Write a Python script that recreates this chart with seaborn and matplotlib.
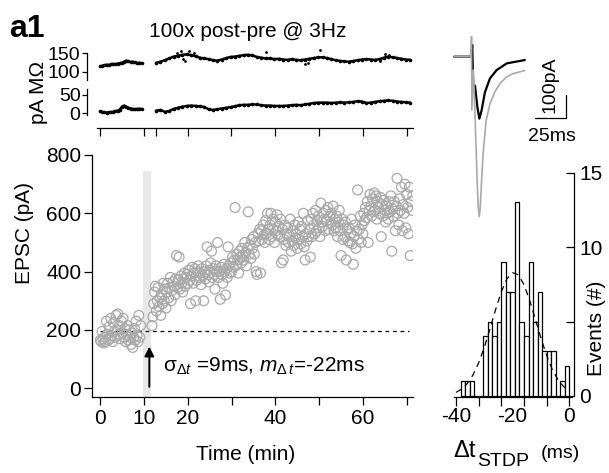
import numpy as np
import pandas as pd
import matplotlib
matplotlib.use("Agg")
import matplotlib.pyplot as plt
import seaborn as sns

# ---------------- data ----------------
sample_step_min = 0.2
baseline_start_min = 0.0
baseline_epsc = [165, 160, 195, 170, 155, 175, 160, 230, 185, 165,
                 210, 170, 240, 180, 160, 225, 195, 175, 250, 200,
                 255, 185, 215, 170, 230, 190, 240, 175, 205, 160,
                 185, 215, 165, 200, 175, 150, 190, 140, 175, 205,
                 165, 230, 180, 160, 250, 175, 215]
post_start_min = 11.8
post_epsc = [215, 245, 290, 330, 350, 265, 300, 345, 280, 310,
             250, 320, 290, 360, 300, 340, 275, 330, 360, 310,
             345, 380, 300, 335, 365, 350, 320, 375, 455, 345,
             370, 450, 340, 385, 360, 330, 375, 395, 350, 380,
             390, 360, 405, 370, 290, 385, 415, 360, 395, 410,
             300, 370, 400, 420, 380, 395, 355, 410, 385, 300,
             400, 375, 420, 485, 390, 365, 405, 430, 470, 380,
             410, 390, 340, 420, 400, 500, 380, 400, 305, 415,
             390, 360, 425, 400, 320, 410, 380, 485, 420, 395,
             430, 400, 450, 415, 440, 620, 420, 460, 440, 395,
             470, 450, 430, 480, 455, 440, 500, 465, 420, 480,
             605, 460, 490, 445, 510, 480, 520, 460, 500, 400,
             390, 530, 505, 545, 395, 540, 510, 560, 525, 500,
             575, 530, 600, 545, 510, 560, 600, 520, 580, 545,
             500, 570, 540, 595, 525, 555, 520, 580, 430, 545,
             440, 510, 560, 490, 530, 550, 500, 525, 580, 470,
             505, 540, 490, 560, 515, 530, 480, 570, 510, 545,
             495, 555, 520, 600, 485, 440, 530, 505, 575, 520,
             545, 450, 580, 520, 600, 560, 530, 610, 540, 575,
             590, 550, 520, 635, 570, 555, 600, 580, 540, 610,
             575, 620, 545, 590, 565, 600, 560, 625, 540, 580,
             550, 590, 520, 570, 610, 540, 455, 580, 510, 560,
             520, 570, 440, 545, 505, 550, 500, 530, 580, 495,
             425, 520, 560, 480, 540, 680, 510, 545, 590, 500,
             560, 530, 600, 575, 620, 585, 640, 500, 610, 665,
             625, 590, 650, 605, 670, 610, 660, 580, 640, 620,
             600, 655, 520, 630, 590, 645, 610, 570, 625, 600,
             580, 640, 605, 660, 470, 615, 590, 640, 540, 625,
             720, 600, 560, 650, 610, 690, 540, 630, 600, 700,
             550, 665, 620, 530, 690, 455, 640, 610, 660]
baseline_level = 197
pairing_window = (9.65, 11.65)
time_ticks = [0, 10, 20, 30, 40, 50, 60, 70]
time_ticklabels = ["0", "10", "20", "", "40", "", "60", ""]
epsc_ticks = [0, 200, 400, 600, 800]

# series resistance (MOhm) and holding current (pA)
rs_seg1_start, rs_seg1_step = 0.0, 0.5
rs_seg1 = [114, 116, 117, 119, 118, 120, 121, 120, 122, 123,
           124, 127, 130, 128, 126, 127, 125, 123, 124, 123]
rs_seg2_start, rs_seg2_step = 12.8, 1.0
rs_seg2 = [124, 127, 131, 136, 141, 143, 146, 147, 145, 142,
           138, 136, 134, 131, 130, 133, 137, 140, 141, 143,
           145, 146, 144, 140, 138, 136, 136, 134, 135, 133,
           132, 134, 132, 131, 133, 135, 137, 139, 139, 137,
           134, 131, 129, 128, 127, 129, 131, 133, 134, 133,
           132, 134, 138, 141, 139, 137, 135, 133, 132]
rs_outlier_t = [17.5, 18.5, 19.0, 19.4, 20.2, 21.5, 37.9, 46.8, 47.5, 50.2, 64.0, 65.0, 66.0]
rs_outlier_v = [152, 157, 135, 130, 156, 152, 153, 121, 123, 159, 128, 147, 145]
ih_seg1 = [5, 4, 3, 2, 3, 3, 4, 6, 7, 10,
           18, 21, 18, 15, 13, 12, 11, 12, 12, 12]
ih_seg2 = [7, 9, 4, 6, 12, 15, 18, 20, 21, 20,
           19, 17, 11, 9, 11, 13, 15, 17, 19, 22,
           23, 23, 24, 24, 22, 21, 21, 20, 20, 20,
           21, 22, 23, 22, 24, 26, 28, 29, 29, 29,
           28, 29, 30, 29, 30, 31, 33, 32, 28, 29,
           31, 33, 34, 35, 34, 32, 31, 30, 29]
trace_axis_ticks = [0, 10, 12.8, 20, 30, 40, 50, 60, 70]

# spike-timing histogram
hist_first_edge = -38.4
hist_bin_width = 1.6
hist_counts = [1, 1, 1, 0, 0, 4, 5, 4, 5, 9, 7, 7, 13, 5, 4, 9, 5, 7, 3, 3, 3, 0, 1, 2]
fit_dt = [-40, -38, -36, -34, -32, -30, -28, -26, -24, -22, -20,
          -18, -16, -14, -12, -10, -8, -6, -4, -2, 0]
fit_events = [0.24, 0.46, 0.84, 1.41, 2.22, 3.27, 4.51, 5.81, 7.00, 7.88, 8.28,
              8.14, 7.48, 6.43, 5.17, 3.88, 2.72, 1.78, 1.09, 0.63, 0.34]

# example EPSC traces (ms, pA)
pre_t = [-14, -0.5, 0.6, 1.45, 2.8, 4.7, 6.3, 8.1, 10.8, 14.9, 20.3, 28.4, 43]
pre_i = [0, 0, 52, -150, -130, -224, -278, -242, -160, -97, -60, -30, -15]
post_t = [-14, -0.4, 0.0, 0.3, 1.5, 2.5, 3.5, 4.5, 5.5, 6.3, 7.0, 8.0, 9.3,
          11.7, 14.9, 19, 23, 28, 33.5, 43]
post_i = [0, 0, 90, -239, -60, -200, -380, -550, -680, -717, -680, -570, -440,
          -290, -210, -156, -120, -92, -76, -62]

# ---------------- style ----------------
sns.set_style("ticks")
plt.rcParams["font.family"] = ["Liberation Sans", "DejaVu Sans"]
plt.rcParams["axes.unicode_minus"] = False
plt.rcParams["mathtext.fontset"] = "custom"
plt.rcParams["mathtext.rm"] = "Liberation Sans"
plt.rcParams["mathtext.it"] = "Liberation Sans:italic"
plt.rcParams["axes.linewidth"] = 0.9
plt.rcParams["xtick.major.width"] = 0.9
plt.rcParams["ytick.major.width"] = 0.9
plt.rcParams["xtick.color"] = "black"
plt.rcParams["ytick.color"] = "black"
plt.rcParams["xtick.labelcolor"] = "black"
plt.rcParams["ytick.labelcolor"] = "black"
plt.rcParams["axes.edgecolor"] = "black"
plt.rcParams["axes.labelcolor"] = "black"
plt.rcParams["text.color"] = "black"

W, H = 609, 473
fig = plt.figure(figsize=(W / 100, H / 100), dpi=100)


def box(l, t, r, b):
    return [l / W, 1 - b / H, (r - l) / W, (b - t) / H]


def new_axes(l, t, r, b, z=0):
    a = fig.add_axes(box(l, t, r, b), zorder=z)
    a.patch.set_visible(False)
    return a


GREY = "#A9A9A9"
TICK_FS = 15
TOP_TICK_FS = 14
LAB_FS = 15

# ---------------- main EPSC panel ----------------
t_base = baseline_start_min + np.arange(len(baseline_epsc)) * sample_step_min
t_post = post_start_min + np.arange(len(post_epsc)) * sample_step_min
df = pd.DataFrame({"time": np.concatenate([t_base, t_post]),
                   "epsc": baseline_epsc + post_epsc})

ax = new_axes(92, 155, 413, 397)
ax.set_xlim(-1.9, 71.45)
ax.set_ylim(-30, 800)
ax.axvspan(*pairing_window, ymin=0, ymax=(746 + 30) / 830, color="#E8E8E8", lw=0, zorder=0)
ax.hlines(baseline_level, 0, 70.5, colors="black", linestyles=(0, (3, 3)), lw=0.9, zorder=1)
sns.scatterplot(data=df, x="time", y="epsc", ax=ax, marker="o", s=50,
                facecolors="none", edgecolor=GREY, linewidth=0.9, legend=False, zorder=2)
ax.set_xticks(time_ticks)
ax.set_xticklabels(time_ticklabels)
ax.set_yticks(epsc_ticks)
ax.tick_params(axis="both", direction="out", length=5.8, labelsize=TICK_FS)
ax.tick_params(axis="x", pad=3)
ax.tick_params(axis="y", pad=2)
sns.despine(ax=ax)
ax.set_xlabel("Time (min)", fontsize=LAB_FS, va="center")
ax.xaxis.set_label_coords(246 / W, 1 - 454 / H, transform=fig.transFigure)
ax.set_ylabel("EPSC (pA)", fontsize=LAB_FS, va="center")
ax.yaxis.set_label_coords(24.5 / W, 1 - 233 / H, transform=fig.transFigure)
ax.annotate("", xy=(11.2, 143), xytext=(11.2, 5),
            arrowprops=dict(arrowstyle="-|>", color="black", lw=1.4,
                            mutation_scale=14, shrinkA=0, shrinkB=0))
ax.text(14.4, 57, r"σ$_{\Delta t}$ =9ms, $m_{\Delta\,t}$=-22ms", fontsize=LAB_FS,
        ha="left", va="baseline")

# ---------------- Rs and holding current traces ----------------
xl_top = (-2.97, 71.44)
ax_rs = new_axes(87, 45, 413, 82)
ax_rs.set_xlim(*xl_top)
ax_rs.set_ylim(71.7, 172.6)
t_rs1 = rs_seg1_start + np.arange(len(rs_seg1)) * rs_seg1_step
t_rs2 = rs_seg2_start + np.arange(len(rs_seg2)) * rs_seg2_step
for tt, vv in ((t_rs1, rs_seg1), (t_rs2, rs_seg2)):
    sns.lineplot(x=tt, y=vv, ax=ax_rs, color="black", lw=1.8, marker="o",
                 markersize=2.6, markeredgewidth=0, estimator=None, sort=False)
sns.scatterplot(x=rs_outlier_t, y=rs_outlier_v, ax=ax_rs, color="black", s=4,
                linewidth=0, legend=False)
ax_rs.set_yticks([100, 150])
ax_rs.set_xticks([])
ax_rs.spines["left"].set_bounds(77, 150)
for s in ("top", "right", "bottom"):
    ax_rs.spines[s].set_visible(False)
ax_rs.tick_params(axis="y", direction="out", length=3.6, pad=1, labelsize=TOP_TICK_FS)

ax_ih = new_axes(87, 86, 413, 128)
ax_ih.set_xlim(*xl_top)
ax_ih.set_ylim(-40.1, 74.4)
t_ih1 = rs_seg1_start + np.arange(len(ih_seg1)) * rs_seg1_step
t_ih2 = rs_seg2_start + np.arange(len(ih_seg2)) * rs_seg2_step
for tt, vv in ((t_ih1, ih_seg1), (t_ih2, ih_seg2)):
    sns.lineplot(x=tt, y=vv, ax=ax_ih, color="black", lw=1.8, marker="o",
                 markersize=2.6, markeredgewidth=0, estimator=None, sort=False)
ax_ih.set_yticks([0, 50])
ax_ih.set_xticks(trace_axis_ticks)
ax_ih.set_xticklabels([])
ax_ih.spines["left"].set_bounds(-5, 65)
ax_ih.spines["bottom"].set_bounds(-0.75, 71.4)
for s in ("top", "right"):
    ax_ih.spines[s].set_visible(False)
ax_ih.tick_params(axis="y", direction="out", length=3.6, pad=1, labelsize=TOP_TICK_FS)
ax_ih.tick_params(axis="x", direction="out", length=5.8)
fig.text(39 / W, 1 - 92 / H, "pA MΩ", rotation=90, ha="center", va="center", fontsize=LAB_FS)

# ---------------- histogram ----------------
edges = hist_first_edge + np.arange(len(hist_counts) + 1) * hist_bin_width
centers = (edges[:-1] + edges[1:]) / 2
hist_df = pd.DataFrame({"dt": centers, "n": hist_counts})
ax_h = new_axes(454, 172.7, 574, 397, z=1)
sns.histplot(data=hist_df, x="dt", weights="n", bins=list(edges), ax=ax_h, stat="count",
             color="white", edgecolor="black", linewidth=0.9, alpha=1)
sns.lineplot(x=fit_dt, y=fit_events, ax=ax_h, color="black", lw=0.9,
             linestyle=(0, (5, 4)), estimator=None, sort=False)
ax_h.set_xlim(-40.7, 1.66)
ax_h.set_ylim(-0.07, 15)
ax_h.yaxis.tick_right()
ax_h.spines["left"].set_visible(False)
ax_h.spines["top"].set_visible(False)
ax_h.spines["right"].set_visible(True)
ax_h.spines["right"].set_bounds(0, 15)
ax_h.spines["bottom"].set_bounds(-40.7, 0.9)
ax_h.set_yticks([0, 5, 10, 15])
ax_h.set_yticklabels(["0", "", "10", "15"])
ax_h.set_xticks([-40, -32, -24, -16, -8, 0])
ax_h.set_xticklabels(["-40", "", "", "", "", "0"])
ax_h.tick_params(axis="y", direction="in", length=5.8, pad=4, labelsize=LAB_FS)
ax_h.tick_params(axis="x", direction="out", length=6.5, pad=1, labelsize=LAB_FS)
ax_h.set_ylabel("")
ax_h.set_xlabel("")
ax_h.text(-20, 1 - (417 - 172.7) / (397 - 172.7), "-20", transform=ax_h.get_xaxis_transform(),
          ha="center", va="center", fontsize=LAB_FS)
fig.text(596 / W, 1 - 328 / H, "Events (#)", rotation=90, ha="center", va="center", fontsize=LAB_FS)
fig.text(453 / W, 1 - 457 / H, "Δt", ha="left", va="baseline", fontsize=17)
fig.text(477 / W, 1 - 466 / H, "STDP", ha="left", va="baseline", fontsize=14)
fig.text(541 / W, 1 - 458 / H, "(ms)", ha="left", va="baseline", fontsize=14)

# ---------------- example traces inset ----------------
ax_in = new_axes(450, 15, 580, 235, z=2)
ax_in.set_xlim(-17.34, 87.5)
ax_in.set_ylim(-799.6, 187)
ax_in.axis("off")
sns.lineplot(x=pre_t, y=pre_i, ax=ax_in, color="black", lw=1.6, estimator=None, sort=False)
sns.lineplot(x=post_t, y=post_i, ax=ax_in, color=GREY, lw=1.2, estimator=None, sort=False)
ax_in.plot([51.2, 76.2], [-274, -274], color="black", lw=0.9)
ax_in.plot([76.2, 76.2], [-274, -174], color="black", lw=0.9)
ax_in.text(63.3, -127, "100pA", rotation=90, ha="center", va="center", fontsize=TOP_TICK_FS)
ax_in.text(64.9, -360, "25ms", ha="center", va="center", fontsize=TOP_TICK_FS)

# ---------------- titles ----------------
fig.text(9 / W, 1 - 37 / H, "a1", ha="left", va="baseline", fontsize=23, fontweight="bold")
fig.text(248 / W, 1 - 37 / H, "100x post-pre @ 3Hz", ha="center", va="baseline", fontsize=LAB_FS)

fig.savefig("out.png", dpi=100)
